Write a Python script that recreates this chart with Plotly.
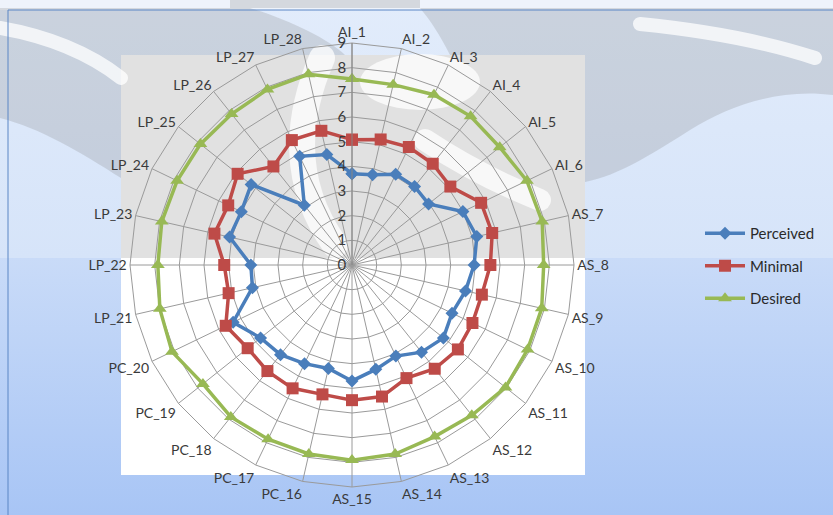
import base64
import plotly.graph_objects as go

# Service-quality dimensions, clockwise from the top
categories = [
    "AI_1", "AI_2", "AI_3", "AI_4", "AI_5", "AI_6",
    "AS_7", "AS_8", "AS_9", "AS_10", "AS_11", "AS_12", "AS_13", "AS_14", "AS_15",
    "PC_16", "PC_17", "PC_18", "PC_19", "PC_20",
    "LP_21", "LP_22", "LP_23", "LP_24", "LP_25", "LP_26", "LP_27", "LP_28",
]

perceived = [3.70, 3.75, 4.08, 4.07, 3.97, 4.99, 5.19, 4.95, 4.72, 4.50, 4.74, 4.52, 4.10, 4.34,
             4.70, 4.30, 4.44, 4.65, 4.74, 5.35, 4.14, 4.10, 5.09, 4.98, 5.23, 3.10, 4.89, 4.59]
minimal = [5.08, 5.22, 5.31, 5.25, 5.10, 5.81, 5.83, 5.61, 5.40, 5.42, 5.49, 5.38, 5.09, 5.47,
           5.48, 5.38, 5.55, 5.50, 5.41, 5.68, 5.13, 5.18, 5.72, 5.57, 5.93, 5.11, 5.62, 5.58]
desired = [7.54, 7.50, 7.66, 7.71, 7.66, 7.87, 7.91, 7.77, 7.89, 7.90, 7.96, 7.79, 7.72, 7.86,
           7.91, 7.86, 7.84, 7.88, 7.73, 8.10, 7.99, 7.87, 7.91, 7.87, 7.86, 7.83, 7.90, 7.93]

radial_ticks = list(range(0, 10))

series = [
    ("Perceived", perceived, "#4A7EBB", "diamond", 10),
    ("Minimal", minimal, "#BE4B48", "square", 12),
    ("Desired", desired, "#98B954", "triangle-up", 12),
]

W, H = 833, 515

# Sheet backdrop: blue gradient, white plot panel and a faint grey logo watermark
svg = f"""<svg xmlns='http://www.w3.org/2000/svg' width='{W}' height='{H}' viewBox='0 0 {W} {H}' preserveAspectRatio='none'>
<defs>
<linearGradient id='a' x1='0' y1='0' x2='0' y2='1'>
<stop offset='0' stop-color='#E2ECFB'/><stop offset='1' stop-color='#D6E4F9'/></linearGradient>
<linearGradient id='b' x1='0' y1='0' x2='0' y2='1'>
<stop offset='0' stop-color='#C9DBF8'/><stop offset='1' stop-color='#A8C5F5'/></linearGradient>
</defs>
<rect x='0' y='0' width='{W}' height='258' fill='url(#a)'/>
<rect x='0' y='258' width='{W}' height='{H - 258}' fill='url(#b)'/>
<rect x='0' y='0' width='{W}' height='10' fill='#EEF3FB'/>
<rect x='121' y='55' width='464' height='420' fill='#FFFFFF'/>
<g fill='#808080' fill-opacity='0.24'>
  <path d='M0 8 L121 8 L121 178 C80 152 40 128 0 118 Z'/>
  <path d='M121 8 L250 8 C290 20 330 40 345 55 L121 55 Z'/>
  <path d='M420 8 L585 8 L585 55 L450 55 C440 35 430 20 420 8 Z'/>
  <path d='M121 55 L585 55 L585 258 L121 258 Z'/>
  <path d='M585 8 L833 8 L833 95 C780 88 730 105 690 130 C650 155 620 175 585 182 Z'/>
  <path d='M230 0 L420 0 L420 8 L230 8 Z'/>
</g>
<g fill='none' stroke='#FFFFFF' stroke-opacity='0.75' stroke-linecap='round'>
  <path d='M0 28 C40 35 85 50 121 78' stroke-width='14'/>
  <path d='M322 58 C295 120 292 185 335 245' stroke-width='26'/>
  <path d='M425 140 C455 160 490 180 540 200' stroke-width='22'/>
  <path d='M640 24 C700 30 760 40 815 58' stroke-width='14'/>
</g>
<ellipse cx='420' cy='82' rx='60' ry='28' fill='#FFFFFF' fill-opacity='0.75'/>
</svg>"""
bg_src = "data:image/svg+xml;base64," + base64.b64encode(svg.encode()).decode()

fig = go.Figure()
for name, vals, color, symbol, size in series:
    fig.add_trace(go.Scatterpolar(
        r=vals + vals[:1],
        theta=categories + categories[:1],
        mode="lines+markers",
        name=name,
        legendgroup=name,
        line=dict(color=color, width=3.5),
        marker=dict(symbol=symbol, size=size, color=color),
    ))

cx, cy, rad = 352, 265, 222
fig.update_layout(
    width=W, height=H,
    margin=dict(l=0, r=0, t=0, b=0),
    paper_bgcolor="rgba(0,0,0,0)",
    font=dict(family="Lato, 'Open Sans', sans-serif", color="#3A3A3A", size=14),
    images=[dict(source=bg_src, xref="paper", yref="paper", x=0, y=1,
                 sizex=1, sizey=1, sizing="stretch", layer="below")],
    shapes=[
        # chart border
        dict(type="rect", xref="paper", yref="paper",
             x0=8 / W, x1=1.02, y0=-0.02, y1=1 - 10 / H,
             fillcolor="rgba(0,0,0,0)", line=dict(color="#5B86C5", width=1), layer="below"),
    ],
    polar=dict(
        domain=dict(x=[(cx - rad) / W, (cx + rad) / W],
                    y=[1 - (cy + rad) / H, 1 - (cy - rad) / H]),
        bgcolor="rgba(0,0,0,0)",
        gridshape="linear",
        radialaxis=dict(
            range=[0, 9], tickvals=radial_ticks, ticktext=[str(v) for v in radial_ticks],
            angle=90, side="counterclockwise", tickangle=90,
            showline=True, linecolor="#868686", linewidth=1,
            gridcolor="#9A9A9A", gridwidth=1, ticks="",
            tickfont=dict(size=15, color="#3A3A3A"),
        ),
        angularaxis=dict(
            rotation=90, direction="clockwise",
            linecolor="#9A9A9A", gridcolor="#9A9A9A", gridwidth=1,
            showline=True, ticks="",
            tickfont=dict(size=14, color="#3A3A3A"),
        ),
    ),
    legend=dict(
        x=700 / W, y=1 - 217 / H, xanchor="left", yanchor="top",
        bgcolor="rgba(0,0,0,0)", font=dict(size=15, color="#2A2A2A"),
        itemwidth=40, tracegroupgap=10,
    ),
)

fig.write_html("out.html")
